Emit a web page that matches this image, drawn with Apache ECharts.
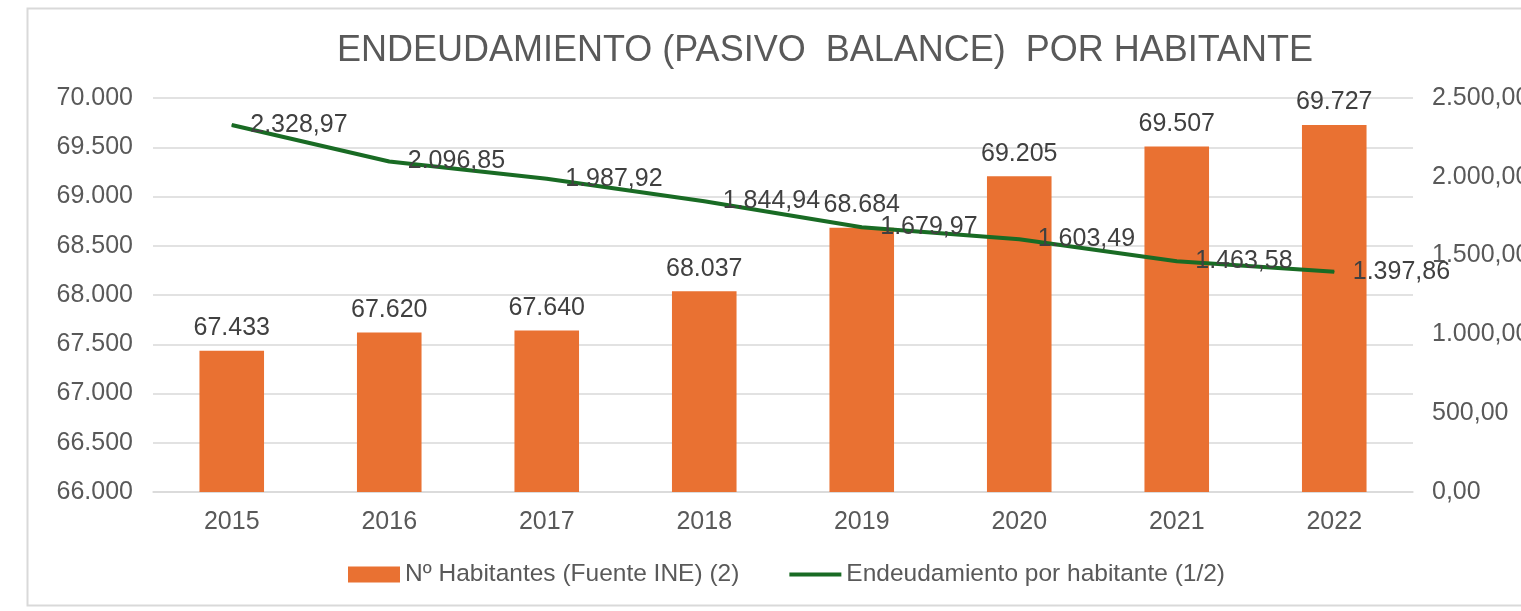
<!DOCTYPE html>
<html>
<head>
<meta charset="utf-8">
<script src="https://cdn.jsdelivr.net/npm/echarts@6/dist/echarts.min.js"></script>
<style>
  html, body { margin: 0; padding: 0; background: #fff; }
  #chart { width: 1521px; height: 611px; }
</style>
</head>
<body>
<div id="chart"></div>
<script>
// data
var years = ['2015', '2016', '2017', '2018', '2019', '2020', '2021', '2022'];
var habitantes = [67433, 67620, 67640, 68037, 68684, 69205, 69507, 69727];
var deudaPorHabitante = [2328.97, 2096.85, 1987.92, 1844.94, 1679.97, 1603.49, 1463.58, 1397.86];

function miles(v) {
  return String(Math.round(v)).replace(/\B(?=(\d{3})+(?!\d))/g, '.');
}
function decimales(v) {
  var parts = Number(v).toFixed(2).split('.');
  return parts[0].replace(/\B(?=(\d{3})+(?!\d))/g, '.') + ',' + parts[1];
}

var font = 'Liberation Sans, Arial, sans-serif';
var chart = echarts.init(document.getElementById('chart'));

chart.setOption({
  backgroundColor: '#fff',
  animation: false,
  graphic: [{
    type: 'rect',
    shape: { x: 27.5, y: 8.5, width: 1600, height: 597 },
    style: { fill: 'none', stroke: '#D9D9D9', lineWidth: 2 },
    silent: true
  }],
  title: {
    text: 'ENDEUDAMIENTO (PASIVO  BALANCE)  POR HABITANTE',
    left: 820,
    top: 28,
    textAlign: 'center',
    textStyle: { fontFamily: font, fontSize: 36, fontWeight: 'normal', color: '#595959' }
  },
  grid: { left: 153, right: 108, top: 98, bottom: 119, outerBoundsMode: 'none', containLabel: false },
  legend: {
    top: 557,
    left: 343,
    itemWidth: 52,
    itemHeight: 16,
    itemGap: 50,
    textStyle: { fontFamily: font, fontSize: 24.5, color: '#595959' },
    data: [
      { name: 'Nº Habitantes (Fuente INE) (2)', icon: 'rect' },
      { name: 'Endeudamiento por habitante (1/2)', icon: 'path://M0,0H52V4H0Z' }
    ]
  },
  xAxis: {
    type: 'category',
    data: years,
    axisLine: { lineStyle: { color: '#D9D9D9', width: 1.5 } },
    axisTick: { show: false },
    axisLabel: { fontFamily: font, fontSize: 25, color: '#595959', margin: 18 }
  },
  yAxis: [{
    type: 'value',
    min: 66000,
    max: 70000,
    interval: 500,
    axisLine: { show: false },
    axisTick: { show: false },
    splitLine: { lineStyle: { color: '#D9D9D9', width: 1.5 } },
    axisLabel: { fontFamily: font, fontSize: 25, color: '#595959', margin: 20, formatter: miles }
  }, {
    type: 'value',
    min: 0,
    max: 2500,
    interval: 500,
    axisLine: { show: false },
    axisTick: { show: false },
    splitLine: { show: false },
    axisLabel: { fontFamily: font, fontSize: 25, color: '#595959', margin: 19, formatter: decimales }
  }],
  series: [{
    name: 'Nº Habitantes (Fuente INE) (2)',
    type: 'bar',
    data: habitantes,
    barWidth: '41%',
    itemStyle: { color: '#E97132' },
    label: {
      show: true,
      position: 'top',
      distance: 10,
      fontFamily: font,
      fontSize: 25,
      color: '#404040',
      formatter: function (p) { return miles(p.value); }
    }
  }, {
    name: 'Endeudamiento por habitante (1/2)',
    type: 'line',
    yAxisIndex: 1,
    data: deudaPorHabitante,
    symbol: 'circle',
    symbolSize: 1,
    itemStyle: { color: '#196B24' },
    lineStyle: { color: '#196B24', width: 4 },
    label: {
      show: true,
      position: 'right',
      distance: 18,
      fontFamily: font,
      fontSize: 25,
      color: '#404040',
      formatter: function (p) { return decimales(p.value); }
    }
  }]
});
</script>
</body>
</html>
